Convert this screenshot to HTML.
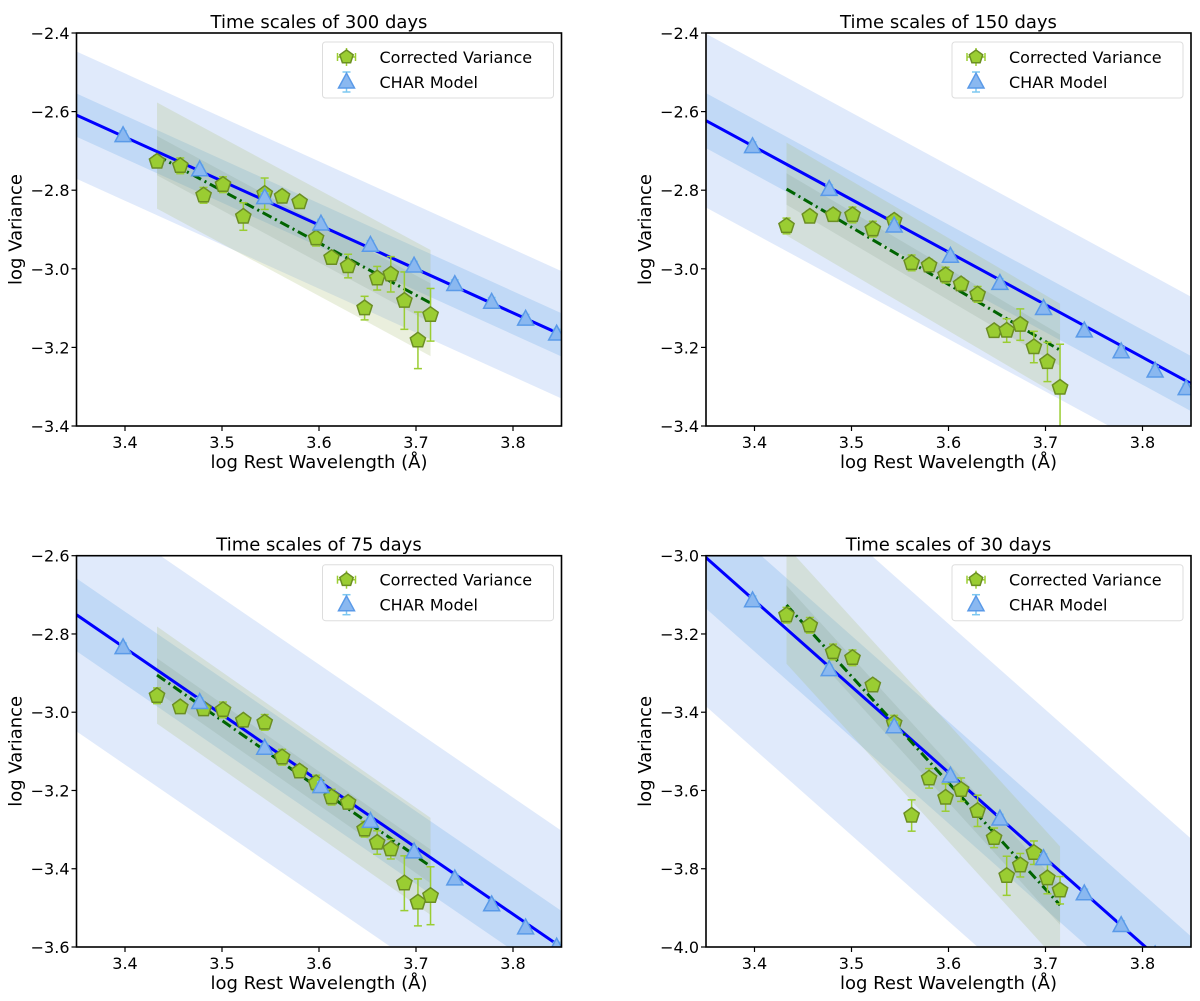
<!DOCTYPE html>
<html><head><meta charset="utf-8">
<style>
html,body{margin:0;padding:0;background:#fff;overflow:hidden;width:1200px;height:1001px;}
svg{display:block;font-family:"DejaVu Sans","Liberation Sans",sans-serif;}
</style></head>
<body>
<svg id="fig" width="1200" height="1001" viewBox="0 0 1200 1001" xmlns="http://www.w3.org/2000/svg"></svg>
<script>
// shared x positions
const greenX = [3.433,3.457,3.481,3.501,3.522,3.544,3.562,3.580,3.597,3.613,3.630,3.647,3.660,3.674,3.688,3.702,3.715];
const blueX = [3.398,3.477,3.544,3.602,3.653,3.698,3.740,3.778,3.813,3.845];
const xTicks = [3.4,3.5,3.6,3.7,3.8];
const panelTitles = ["Time scales of 300 days","Time scales of 150 days","Time scales of 75 days","Time scales of 30 days"];

// panel 1 (300 days)
const p1Green = [-2.727,-2.738,-2.813,-2.786,-2.867,-2.809,-2.816,-2.830,-2.922,-2.972,-2.993,-3.100,-3.024,-3.014,-3.081,-3.182,-3.117];
const p1GreenErr = [0.015,0.02,0.02,0.02,0.035,0.04,0.015,0.01,0.02,0.01,0.03,0.03,0.03,0.045,0.073,0.072,0.067];
const p1Blue = [-2.661,-2.748,-2.819,-2.886,-2.940,-2.993,-3.040,-3.085,-3.128,-3.166];
const p1BlueFit = [-2.609,-1.118, 0.162, 0.055];   // value at 3.35, slope, outer half, inner half
const p1GreenFit = [-2.712,-1.330, 0.135, 0.05];   // value at 3.433, slope, outer half, inner half
const p1YTicks = [-2.4,-2.6,-2.8,-3.0,-3.2,-3.4];

// panel 2 (150 days)
const p2Green = [-2.891,-2.867,-2.863,-2.863,-2.899,-2.877,-2.985,-2.991,-3.016,-3.039,-3.065,-3.158,-3.157,-3.142,-3.199,-3.237,-3.302];
const p2GreenErr = [0.02,0.015,0.015,0.02,0.02,0.015,0.02,0.015,0.02,0.015,0.02,0.01,0.03,0.04,0.04,0.05,0.11];
const p2Blue = [-2.689,-2.798,-2.891,-2.968,-3.037,-3.101,-3.158,-3.211,-3.260,-3.305];
const p2BlueFit = [-2.623,-1.338, 0.221, 0.07];
const p2GreenFit = [-2.797,-1.454, 0.118, 0.04];
const p2YTicks = [-2.4,-2.6,-2.8,-3.0,-3.2,-3.4];

// panel 3 (75 days)
const p3Green = [-2.958,-2.987,-2.992,-2.994,-3.021,-3.026,-3.115,-3.151,-3.181,-3.217,-3.231,-3.299,-3.333,-3.350,-3.437,-3.486,-3.469];
const p3GreenErr = [0.02,0.01,0.01,0.02,0.01,0.02,0.02,0.015,0.02,0.02,0.015,0.02,0.03,0.025,0.07,0.06,0.074];
const p3Blue = [-2.835,-2.975,-3.092,-3.190,-3.279,-3.357,-3.426,-3.492,-3.551,-3.600];
const p3BlueFit = [-2.751,-1.700, 0.298, 0.093];
const p3GreenFit = [-2.905,-1.734, 0.124, 0.043];
const p3YTicks = [-2.6,-2.8,-3.0,-3.2,-3.4,-3.6];

// panel 4 (30 days)
const p4Green = [-3.152,-3.178,-3.246,-3.261,-3.331,-3.428,-3.664,-3.569,-3.618,-3.598,-3.652,-3.721,-3.818,-3.791,-3.759,-3.824,-3.855];
const p4GreenErr = [0.02,0.02,0.02,0.02,0.015,0.02,0.04,0.025,0.035,0.03,0.04,0.025,0.05,0.03,0.03,0.04,0.035];
const p4Blue = [-3.115,-3.291,-3.437,-3.563,-3.673,-3.774,-3.864,-3.945,-4.02,-4.09];
const p4BlueFit = [-3.005,-2.196, 0.38, 0.13];
const p4GreenFit = [-3.126,-2.720, 0.15, 0.05];
const p4YTicks = [-3.0,-3.2,-3.4,-3.6,-3.8,-4.0];

const NS = "http://www.w3.org/2000/svg";
const fig = document.getElementById("fig");
function mk(tag, attrs, parent){
  const e = document.createElementNS(NS, tag);
  for (const k in attrs) e.setAttribute(k, attrs[k]);
  (parent||fig).appendChild(e);
  return e;
}
const panels = [
  {L:76.5,R:561.5,T:33,B:426,y0:-2.4,y1:-3.4,green:p1Green,gerr:p1GreenErr,blue:p1Blue,bf:p1BlueFit,gf:p1GreenFit,yt:p1YTicks},
  {L:706,R:1191,T:33,B:426,y0:-2.4,y1:-3.4,green:p2Green,gerr:p2GreenErr,blue:p2Blue,bf:p2BlueFit,gf:p2GreenFit,yt:p2YTicks},
  {L:76.5,R:561.5,T:555.7,B:947,y0:-2.6,y1:-3.6,green:p3Green,gerr:p3GreenErr,blue:p3Blue,bf:p3BlueFit,gf:p3GreenFit,yt:p3YTicks},
  {L:706,R:1191,T:555.7,B:947,y0:-3.0,y1:-4.0,green:p4Green,gerr:p4GreenErr,blue:p4Blue,bf:p4BlueFit,gf:p4GreenFit,yt:p4YTicks}
];
function pent(cx,cy,r){
  let p=[];
  for(let i=0;i<5;i++){const a=-Math.PI/2+i*2*Math.PI/5;p.push((cx+r*Math.cos(a)).toFixed(1)+","+(cy+r*Math.sin(a)).toFixed(1));}
  return p.join(" ");
}
function tri(cx,cy,r){
  return [cx+","+(cy-r*1.1),(cx-r)+","+(cy+r*0.75),(cx+r)+","+(cy+r*0.75)].join(" ");
}
panels.forEach((P,pi)=>{
  const g = mk("g",{});
  
  
  const sx = v => P.L + (v-3.35)/0.5*(P.R-P.L);
  const sy = v => P.T + (P.y0-v)/(P.y0-P.y1)*(P.B-P.T);
  const cid = "clip"+pi;
  const cp = mk("clipPath",{id:cid},g);
  mk("rect",{x:P.L,y:P.T,width:P.R-P.L,height:P.B-P.T},cp);
  const plot = mk("g",{"clip-path":"url(#"+cid+")"},g);
  
  
  const band=(xa,xb,f0,x0,slope,h,fill,name)=>{
    const ya=f0+slope*(xa-x0), yb=f0+slope*(xb-x0);
    const e=mk("polygon",{points:[sx(xa)+","+sy(ya+h),sx(xb)+","+sy(yb+h),sx(xb)+","+sy(yb-h),sx(xa)+","+sy(ya-h)].join(" "),fill:fill},plot);
    
    
  };
  band(3.35,3.85,P.bf[0],3.35,P.bf[1],P.bf[2],"rgba(100,149,237,0.2)","char-outer-band");
  band(3.35,3.85,P.bf[0],3.35,P.bf[1],P.bf[3],"rgba(70,150,230,0.2)","char-inner-band");
  band(3.433,3.715,P.gf[0],3.433,P.gf[1],P.gf[2],"rgba(170,190,120,0.25)","variance-outer-band");
  band(3.433,3.715,P.gf[0],3.433,P.gf[1],P.gf[3],"rgba(90,120,90,0.12)","variance-inner-band");
  const bl=mk("line",{x1:sx(3.35),y1:sy(P.bf[0]),x2:sx(3.85),y2:sy(P.bf[0]+P.bf[1]*0.5),stroke:"#0000ff","stroke-width":3},plot);
  
  
  const gl=mk("line",{x1:sx(3.433),y1:sy(P.gf[0]),x2:sx(3.715),y2:sy(P.gf[0]+P.gf[1]*(3.715-3.433)),stroke:"#006400","stroke-width":3,"stroke-dasharray":"10 4 2 4"},plot);
  
  
  P.green.forEach((v,i)=>{
    const x=sx(greenX[i]), y=sy(v), e=P.gerr[i];
    const pg=mk("g",{},plot);
    
    
    mk("line",{x1:x,y1:sy(v+e),x2:x,y2:sy(v-e),stroke:"#9acd32","stroke-width":1.5},pg);
    mk("line",{x1:x-4,y1:sy(v+e),x2:x+4,y2:sy(v+e),stroke:"#9acd32","stroke-width":1.5},pg);
    mk("line",{x1:x-4,y1:sy(v-e),x2:x+4,y2:sy(v-e),stroke:"#9acd32","stroke-width":1.5},pg);
    mk("polygon",{points:pent(x,y,8),fill:"#9acd32",stroke:"#6b8e23","stroke-width":1.5},pg);
  });
  P.blue.forEach((v,i)=>{
    const x=sx(blueX[i]), y=sy(v), e=0.012;
    const tg=mk("g",{},plot);
    
    
    mk("line",{x1:x,y1:sy(v+e),x2:x,y2:sy(v-e),stroke:"#7ec8f0","stroke-width":1.5},tg);
    mk("line",{x1:x-4,y1:sy(v+e),x2:x+4,y2:sy(v+e),stroke:"#7ec8f0","stroke-width":1.5},tg);
    mk("line",{x1:x-4,y1:sy(v-e),x2:x+4,y2:sy(v-e),stroke:"#7ec8f0","stroke-width":1.5},tg);
    mk("polygon",{points:tri(x,y,8),fill:"#8ab8f0",stroke:"#5a9ae8","stroke-width":1.5},tg);
  });
  const fr=mk("rect",{x:P.L,y:P.T,width:P.R-P.L,height:P.B-P.T,fill:"none",stroke:"#000","stroke-width":1.6},g);
  
  
  xTicks.forEach(t=>{
    const x=sx(t);
    mk("line",{x1:x,y1:P.B,x2:x,y2:P.B+5,stroke:"#000","stroke-width":1.2},g);
    const tx=mk("text",{x:x,y:P.B+22,"font-size":16,"text-anchor":"middle"},g);
    tx.textContent=t.toFixed(1);
    
    
  });
  P.yt.forEach(t=>{
    const y=sy(t);
    mk("line",{x1:P.L-5,y1:y,x2:P.L,y2:y,stroke:"#000","stroke-width":1.2},g);
    const ty=mk("text",{x:P.L-7,y:y+6,"font-size":16,"text-anchor":"end"},g);
    ty.textContent="\u2212"+Math.abs(t).toFixed(1);
    
    
  });
  const tt=mk("text",{x:(P.L+P.R)/2,y:P.T-5,"font-size":18,"text-anchor":"middle"},g);
  tt.textContent=panelTitles[pi];
  
  
  const xl=mk("text",{x:(P.L+P.R)/2,y:P.B+42,"font-size":18,"text-anchor":"middle"},g);
  xl.textContent="log Rest Wavelength (\u00c5)";
  
  
  const yx=P.L-55, ymid=(P.T+P.B)/2;
  const yl=mk("text",{x:yx,y:ymid,"font-size":18,"text-anchor":"middle",transform:"rotate(-90 "+yx+" "+ymid+")"},g);
  yl.textContent="log Variance";
  
  
  const lg=mk("g",{},g);
  
  
  const lx=P.R-239, ly=P.T+9;
  mk("rect",{x:lx,y:ly,width:231,height:56,rx:3,fill:"rgba(255,255,255,0.85)",stroke:"#ddd","stroke-width":1},lg);
  const mx=lx+24, y1=ly+15, y2=ly+40;
  const le1=mk("g",{},lg);
  
  
  mk("line",{x1:mx,y1:y1-9,x2:mx,y2:y1+9,stroke:"#9acd32","stroke-width":1.5},le1);
  mk("line",{x1:mx-9,y1:y1,x2:mx+9,y2:y1,stroke:"#9acd32","stroke-width":1.5},le1);
  mk("line",{x1:mx-9,y1:y1-4,x2:mx-9,y2:y1+4,stroke:"#9acd32","stroke-width":1.5},le1);
  mk("line",{x1:mx+9,y1:y1-4,x2:mx+9,y2:y1+4,stroke:"#9acd32","stroke-width":1.5},le1);
  mk("polygon",{points:pent(mx,y1,7),fill:"#9acd32",stroke:"#6b8e23","stroke-width":1.5},le1);
  const t1=mk("text",{x:lx+57,y:y1+6,"font-size":16},le1); t1.textContent="Corrected Variance";
  const le2=mk("g",{},lg);
  
  
  mk("line",{x1:mx,y1:y2-10,x2:mx,y2:y2+10,stroke:"#7ec8f0","stroke-width":1.5},le2);
  mk("line",{x1:mx-4,y1:y2-10,x2:mx+4,y2:y2-10,stroke:"#7ec8f0","stroke-width":1.5},le2);
  mk("line",{x1:mx-4,y1:y2+10,x2:mx+4,y2:y2+10,stroke:"#7ec8f0","stroke-width":1.5},le2);
  mk("polygon",{points:tri(mx,y2,8),fill:"#8ab8f0",stroke:"#5a9ae8","stroke-width":1.5},le2);
  const t2=mk("text",{x:lx+57,y:y2+6,"font-size":16},le2); t2.textContent="CHAR Model";
});
</script>
</body></html>
